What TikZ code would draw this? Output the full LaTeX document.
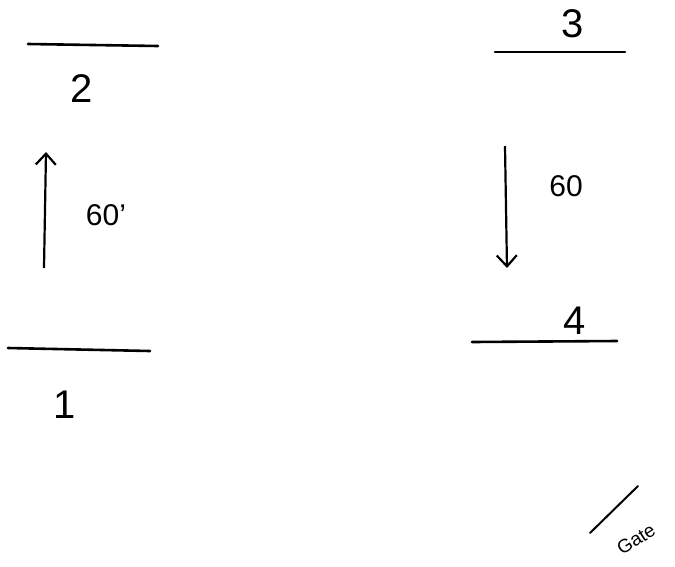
\documentclass[tikz,border=0pt]{standalone}
\usetikzlibrary{arrows.meta}
\usepackage{fontspec}
\setmainfont{Liberation Sans}
\begin{document}
\begin{tikzpicture}[x=1pt,y=-1pt,
  level/.style={line width=2.6pt,line cap=round},
  flow/.style={line width=2.2pt,-{Straight Barb[length=11pt,width=20pt,line width=2.2pt]}},
  num/.style={font=\fontsize{40}{42}\selectfont,inner sep=0pt},
  lab/.style={font=\fontsize{30}{32}\selectfont,inner sep=0pt}]
\useasboundingbox (0,0) rectangle (675,566);
% level lines
\coordinate (l2a) at (28,44); \coordinate (l2b) at (158,46);
\coordinate (l1a) at (8,348); \coordinate (l1b) at (150,351);
\coordinate (l3a) at (495,52); \coordinate (l3b) at (625,52);
\coordinate (l4a) at (472,342); \coordinate (l4b) at (617,341);
\draw[level] (l2a) -- (l2b);
\draw[level] (l1a) -- (l1b);
\draw[level] (l3a) -- (l3b);
\draw[level] (l4a) -- (l4b);
% labels
\node[num] (n2) at (82,89) {2};
\node[num] (n1) at (65,405) {1};
\node[num] (n3) at (573,24) {3};
\node[num] (n4) at (575,321) {4};
% arrows
\coordinate (a1s) at (44,268); \coordinate (a1e) at (46,152);
\coordinate (a2s) at (505,146); \coordinate (a2e) at (507,268);
\draw[flow] (a1s) -- (a1e);
\draw[flow] (a2s) -- (a2e);
\node[lab] (f1) at (106,215) {60'};
\node[lab] (f2) at (566,186) {60};
% signature
\coordinate (s1) at (590,533); \coordinate (s2) at (638,486);
\draw[line width=2pt,line cap=round] (s1) -- (s2);
\node[font=\fontsize{19}{20}\selectfont,rotate=32,inner sep=0pt] (g) at (636,539) {Gate};
\end{tikzpicture}
\end{document}
